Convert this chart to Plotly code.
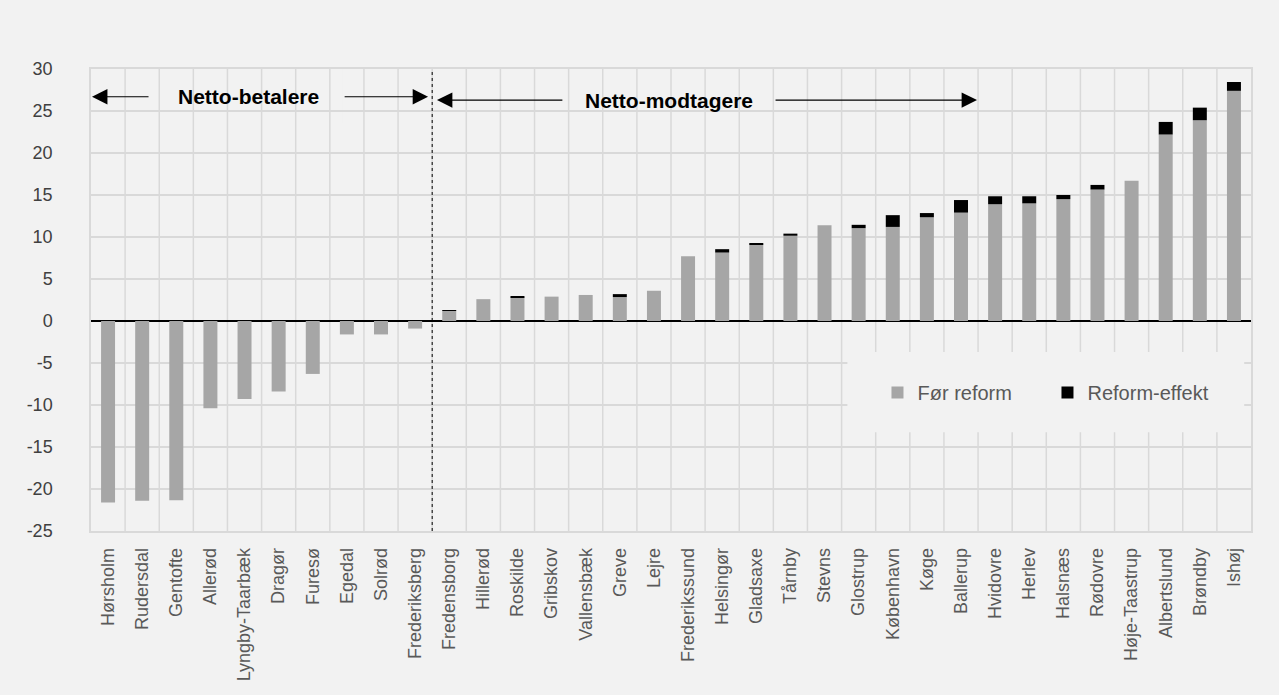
import plotly.graph_objects as go

# Kommuner, sorteret efter nettoudligning før reform
kommuner = [
    "Hørsholm", "Rudersdal", "Gentofte", "Allerød", "Lyngby-Taarbæk", "Dragør",
    "Furesø", "Egedal", "Solrød", "Frederiksberg", "Fredensborg", "Hillerød",
    "Roskilde", "Gribskov", "Vallensbæk", "Greve", "Lejre", "Frederikssund",
    "Helsingør", "Gladsaxe", "Tårnby", "Stevns", "Glostrup", "København",
    "Køge", "Ballerup", "Hvidovre", "Herlev", "Halsnæs", "Rødovre",
    "Høje-Taastrup", "Albertslund", "Brøndby", "Ishøj",
]

foer_reform = [
    -21.6, -21.4, -21.35, -10.4, -9.3, -8.4,
    -6.3, -1.6, -1.6, -0.9, 1.2, 2.6,
    2.8, 2.9, 3.1, 2.85, 3.6, 7.7,
    8.15, 9.1, 10.15, 11.4, 11.05, 11.2,
    12.35, 12.9, 13.9, 14.0, 14.5, 15.65,
    16.7, 22.2, 23.9, 27.4,
]

reform_effekt = [
    0, 0, 0, 0, 0, 0,
    0, 0, 0, 0, 0.1, 0,
    0.1, 0, 0, 0.35, 0, 0,
    0.4, 0.1, 0.25, 0, 0.4, 1.4,
    0.5, 1.5, 0.95, 0.85, 0.5, 0.55,
    0, 1.5, 1.5, 1.05,
]

y_ticks = [-25, -20, -15, -10, -5, 0, 5, 10, 15, 20, 25, 30]

BG = "#f2f2f2"
GRID = "#d9d9d9"
FONT = "Liberation Sans, Arial, sans-serif"

fig = go.Figure()
fig.add_trace(go.Bar(
    x=list(range(len(kommuner))), y=foer_reform, name="Før reform",
    marker=dict(color="#a6a6a6", line=dict(width=0)),
))
fig.add_trace(go.Bar(
    x=list(range(len(kommuner))), y=reform_effekt, name="Reform-effekt",
    marker=dict(color="#000000", line=dict(width=0)),
))

# Skillelinje mellem netto-betalere og netto-modtagere
fig.add_shape(type="line", xref="x", yref="y", x0=9.5, x1=9.5, y0=-25, y1=30,
              line=dict(color="#000000", width=1, dash="dot"), layer="above")

# Baggrundsfelt bag teksten "Netto-betalere"
fig.add_shape(type="rect", xref="x", yref="paper", x0=1.3, x1=6.88, y0=0.883, y1=1.0,
              fillcolor=BG, line=dict(width=0), layer="between")

# Baggrundsfelt bag signaturforklaringen
fig.add_shape(type="rect", xref="x", yref="y", x0=21.67, x1=33.3, y0=-13.25, y1=-3.7,
              fillcolor=BG, line=dict(width=0), layer="between")

# Tekster og pile
fig.add_annotation(x=4.13, y=26.7, text="<b>Netto-betalere</b>", showarrow=False,
                   font=dict(size=21, color="#000000", family=FONT))
fig.add_annotation(x=16.44, y=26.3, text="<b>Netto-modtagere</b>", showarrow=False,
                   font=dict(size=21, color="#000000", family=FONT))

arrows = [
    (1.23, -0.47, 26.7),
    (6.89, 9.38, 26.7),
    (13.36, 9.64, 26.3),
    (19.52, 25.47, 26.3),
]
for tail, tip, yy in arrows:
    fig.add_annotation(x=tip, y=yy, ax=tail, ay=yy, xref="x", yref="y",
                       axref="x", ayref="y", text="", showarrow=True,
                       arrowhead=2, arrowsize=2.8, arrowwidth=1.1,
                       arrowcolor="#000000")

fig.update_layout(
    width=1279, height=695,
    barmode="relative", bargap=0.59,
    paper_bgcolor=BG, plot_bgcolor=BG,
    margin=dict(l=91, r=28, t=69, b=164),
    font=dict(family=FONT, color="#595959"),
    legend=dict(
        orientation="h", x=0.678, y=0.30, xanchor="left", yanchor="middle",
        bgcolor="rgba(0,0,0,0)", font=dict(size=20, color="#595959"),
        entrywidth=125, traceorder="normal",
    ),
    showlegend=True,
)

fig.update_xaxes(
    type="linear", range=[-0.5, len(kommuner) - 0.5],
    tickmode="array", tickvals=list(range(len(kommuner))), ticktext=kommuner,
    tickangle=-90, tickfont=dict(size=18, color="#595959", family=FONT),
    showgrid=False, ticks="", ticklabelstandoff=8,
    showline=True, mirror=True, linecolor=GRID, linewidth=1.5,
    zeroline=False,
)

# Lodrette gitterlinjer mellem kommunerne
for i in range(1, len(kommuner)):
    fig.add_shape(type="line", xref="x", yref="y", x0=i - 0.5, x1=i - 0.5,
                  y0=-25, y1=30, line=dict(color=GRID, width=1.5), layer="below")

fig.update_yaxes(
    range=[-25, 30], tickmode="array", tickvals=y_ticks,
    ticktext=[str(v) for v in y_ticks],
    tickfont=dict(size=18, color="#404040", family=FONT),
    showgrid=True, gridcolor=GRID, gridwidth=1.5,
    zeroline=True, zerolinecolor="#000000", zerolinewidth=2,
    showline=True, mirror=True, linecolor=GRID, linewidth=1.5,
    ticks="", ticklabelstandoff=33,
)

fig.write_html("out.html")
